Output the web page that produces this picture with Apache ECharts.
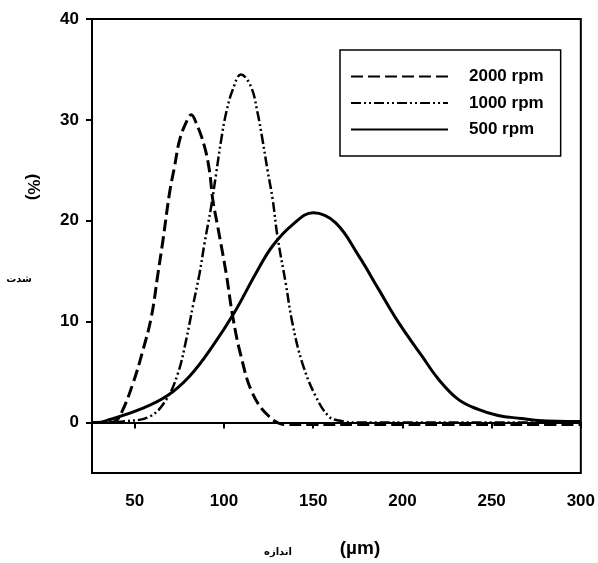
<!DOCTYPE html>
<html><head><meta charset="utf-8">
<script src="https://cdn.jsdelivr.net/npm/echarts@6/dist/echarts.min.js"></script>
<style>html,body{margin:0;padding:0;background:#fff}#c{width:598px;height:563px}</style>
</head><body><div id="c"></div>
<script>
const xTicks = [50, 100, 150, 200, 250, 300];
const yTicks = [0, 10, 20, 30, 40];
const seriesNames = ['2000 rpm', '1000 rpm', '500 rpm'];

const x2000 = [26, 30, 35, 38.8, 42.6, 49, 54.6, 59.3, 63, 65.8, 69.5, 72.3, 75.1, 78.9, 81.6, 84.4, 89, 91.8, 93.7, 96.5, 101.2, 104.9, 109.5, 116, 125.3, 134.6, 150, 175, 200, 225, 250, 275, 300];
const y2000 = [0, 0, 0, 0.1, 1.0, 3.9, 7.2, 10.5, 14.8, 18.1, 22.8, 25.4, 28.0, 29.8, 30.5, 29.7, 27.4, 25.0, 22.1, 19.4, 14.8, 10.5, 6.6, 2.9, 0.6, -0.2, -0.2, -0.2, -0.2, -0.2, -0.2, -0.2, -0.2];

const x1000 = [26, 35, 43.5, 58.4, 67.7, 74.2, 78.8, 82.5, 86.3, 89.1, 92.8, 95.6, 98.4, 101.2, 104.9, 109.5, 115.1, 118.8, 121.6, 124.4, 127.2, 130, 134.6, 138.3, 143.9, 151.4, 158.8, 164.4, 175, 200, 250, 300];
const y1000 = [0, 0, 0.1, 0.6, 2.3, 4.9, 8.2, 11.5, 14.8, 17.8, 21.4, 24.7, 28.0, 30.7, 33.0, 34.5, 33.3, 30.7, 28.0, 25.0, 22.2, 18.4, 13.8, 9.9, 5.9, 2.6, 0.6, 0.2, 0, 0, 0, 0];

const x500 = [26, 28.6, 36, 52.8, 67.7, 80.7, 93.7, 105.8, 117.9, 127.2, 138.3, 150, 162.6, 175.6, 186.7, 197.9, 210.9, 220.2, 231.3, 242.5, 253.6, 266.7, 276, 300];
const y500 = [0, 0, 0.3, 1.3, 2.6, 4.6, 7.6, 10.9, 14.8, 17.5, 19.6, 20.8, 19.8, 16.5, 13.2, 9.9, 6.6, 4.3, 2.3, 1.3, 0.7, 0.4, 0.2, 0.1];

function pairs(xs, ys) { return xs.map((x, i) => [x, ys[i]]); }

const FONT = "'Liberation Sans', Arial, sans-serif";
const chart = echarts.init(document.getElementById('c'));
chart.setOption({
  animation: false,
  backgroundColor: '#fff',
  grid: { left: 92, right: 15, top: 19, bottom: 90, show: true, borderColor: '#000', borderWidth: 2, backgroundColor: 'transparent' },
  xAxis: {
    type: 'value', min: 26, max: 300,
    axisLine: { lineStyle: { color: '#000', width: 2 } },
    axisTick: { customValues: xTicks, length: 6, lineStyle: { color: '#000', width: 2 } },
    axisLabel: { customValues: xTicks, margin: 20, color: '#000', fontSize: 17, fontWeight: 'bold', fontFamily: FONT },
    splitLine: { show: false }
  },
  yAxis: {
    type: 'value', min: -5, max: 40,
    axisLine: { lineStyle: { color: '#000', width: 2 } },
    axisTick: { customValues: yTicks, length: 6, lineStyle: { color: '#000', width: 2 } },
    axisLabel: { customValues: yTicks, margin: 13, color: '#000', fontSize: 17, fontWeight: 'bold', fontFamily: FONT },
    splitLine: { show: false }
  },
  legend: {
    orient: 'vertical', left: 340, top: 50,
    padding: [18, 17, 18, 10],
    itemWidth: 97, itemHeight: 17, itemGap: 9.5,
    borderColor: '#000', borderWidth: 1.5,
    itemStyle: { color: 'rgba(0,0,0,0)', borderWidth: 0, borderColor: 'rgba(0,0,0,0)' },
    textStyle: { color: '#000', fontSize: 17, fontWeight: 'bold', fontFamily: FONT, padding: [0, 0, 0, 16] },
    data: seriesNames
  },
  series: [
    { name: seriesNames[0], type: 'line', symbol: 'none', smooth: 0.4, data: pairs(x2000, y2000),
      lineStyle: { color: '#000', width: 3, type: [12, 5] }, itemStyle: { color: '#000' } },
    { name: seriesNames[1], type: 'line', symbol: 'none', smooth: 0.4, data: pairs(x1000, y1000),
      lineStyle: { color: '#000', width: 2.5, type: [10, 3, 2, 3, 2, 3] }, itemStyle: { color: '#000' } },
    { name: seriesNames[2], type: 'line', symbol: 'none', smooth: 0.4, data: pairs(x500, y500),
      lineStyle: { color: '#000', width: 3 }, itemStyle: { color: '#000' } }
  ],
  graphic: [
    { type: 'text', x: 33, y: 187, rotation: -Math.PI / 2,
      style: { text: '(%)', fill: '#000', fontSize: 17, fontWeight: 'bold', fontFamily: FONT, align: 'center', verticalAlign: 'middle' } },
    { type: 'text', x: 19, y: 279,
      style: { text: 'شدت', fill: '#000', fontSize: 10, fontWeight: 'bold', fontFamily: "'DejaVu Sans', sans-serif", align: 'center', verticalAlign: 'middle' } },
    { type: 'text', x: 278, y: 552,
      style: { text: 'اندازه', fill: '#000', fontSize: 10, fontWeight: 'bold', fontFamily: "'DejaVu Sans', sans-serif", align: 'center', verticalAlign: 'middle' } },
    { type: 'text', x: 360, y: 549,
      style: { text: '(µm)', fill: '#000', fontSize: 19, fontWeight: 'bold', fontFamily: FONT, align: 'center', verticalAlign: 'middle' } }
  ]
});
</script>
</body></html>
